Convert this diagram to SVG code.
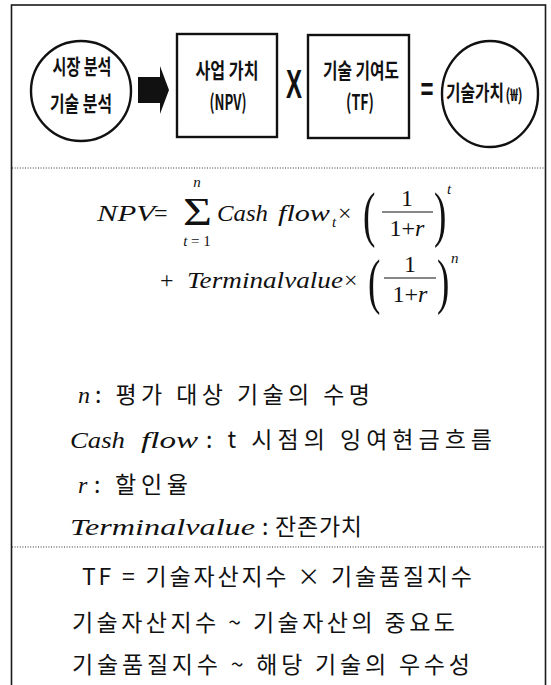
<svg xmlns="http://www.w3.org/2000/svg" width="551" height="685" viewBox="0 0 551 685">
<style>
.frame{fill:none;stroke:#1a1a1a;stroke-width:1.6}
.dot{stroke:#333;stroke-width:1;stroke-dasharray:1 1.6}
.shape{fill:#fff;stroke:#111;stroke-width:2.4}
.hd{font-family:"Noto Sans CJK KR","Noto Sans",sans-serif;font-weight:700;font-size:21px;fill:#111;text-anchor:middle}
.op{font-family:"Liberation Sans",Arial,sans-serif;font-weight:700;fill:#111;text-anchor:middle}
.m{font-family:"Liberation Serif","Times New Roman",serif;font-style:italic;font-size:24px;fill:#111}
.mr{font-family:"Liberation Serif","Times New Roman",serif;font-size:24px;fill:#111}
.ms{font-family:"Liberation Serif","Times New Roman",serif;font-size:15px;fill:#111}
.kr{font-family:"Noto Sans CJK KR","Noto Sans",sans-serif;font-size:23px;fill:#111}
</style>
<rect x="0" y="0" width="551" height="685" fill="#fff"/>
<rect class="frame" x="11.5" y="5" width="534" height="700"/>
<line class="dot" x1="12" y1="168" x2="545" y2="168"/>
<line class="dot" x1="12" y1="547" x2="545" y2="547"/>

<g id="connectors">
  <path d="M138,77 H160 V66 L169,90 L160,114 V103 H138 Z" fill="#111"/>
</g>

<g id="analysis">
  <ellipse class="shape" cx="81" cy="91" rx="50" ry="50"/>
  <text class="hd" x="82" y="74" textLength="59" lengthAdjust="spacingAndGlyphs">시장 분석</text>
  <text class="hd" x="81" y="111" textLength="62" lengthAdjust="spacingAndGlyphs">기술 분석</text>
</g>

<g id="npv-box">
  <rect class="shape" x="177" y="34" width="100" height="103"/>
  <text class="hd" x="227" y="78" textLength="63" lengthAdjust="spacingAndGlyphs">사업 가치</text>
  <text class="hd" x="228" y="110" textLength="37" lengthAdjust="spacingAndGlyphs">(NPV)</text>
</g>

<g id="times-op">
  <text class="op" x="294" y="98" style="font-size:40px" textLength="16" lengthAdjust="spacingAndGlyphs">X</text>
</g>

<g id="tf-box">
  <rect class="shape" x="308" y="35" width="101" height="103"/>
  <text class="hd" x="361" y="78" textLength="76" lengthAdjust="spacingAndGlyphs">기술 기여도</text>
  <text class="hd" x="360" y="110" textLength="28" lengthAdjust="spacingAndGlyphs">(TF)</text>
</g>

<g id="equals-op">
  <text class="op" x="427" y="100" style="font-size:32px" textLength="13" lengthAdjust="spacingAndGlyphs">=</text>
</g>

<g id="tech-value">
  <ellipse class="shape" cx="490" cy="94" rx="48" ry="53"/>
  <text class="hd" style="text-anchor:start" transform="translate(446 100) scale(0.75 1)" x="0" y="0">기술가치<tspan style="font-size:17px" dx="2" dy="1">(₩)</tspan></text>
</g>

<g id="formula">
  <text class="m" x="97" y="221" textLength="58" lengthAdjust="spacingAndGlyphs">NPV</text>
  <text class="mr" x="154" y="221">=</text>
  <text class="mr" x="183" y="225" style="font-size:40px" textLength="29" lengthAdjust="spacingAndGlyphs">Σ</text>
  <text class="ms" x="197" y="187" font-style="italic" text-anchor="middle">n</text>
  <text class="ms" x="197" y="246" text-anchor="middle"><tspan font-style="italic">t</tspan> = 1</text>
  <text class="m" x="217" y="221" textLength="51" lengthAdjust="spacingAndGlyphs">Cash</text>
  <text class="m" x="278" y="221" textLength="52" lengthAdjust="spacingAndGlyphs">flow</text>
  <text class="ms" x="332" y="227" font-style="italic">t</text>
  <text class="mr" x="338" y="221">×</text>
  <text class="mr" x="363" y="235" style="font-size:62px" transform="translate(363 235) scale(0.6 1) translate(-363 -235)">(</text>
  <text class="mr" x="407" y="206" text-anchor="middle">1</text>
  <line x1="382" y1="212" x2="433" y2="212" stroke="#111" stroke-width="1.2"/>
  <text class="mr" x="407" y="236" text-anchor="middle">1+<tspan font-style="italic">r</tspan></text>
  <text class="mr" x="434" y="235" style="font-size:62px" transform="translate(434 235) scale(0.6 1) translate(-434 -235)">)</text>
  <text class="ms" x="447" y="194" font-style="italic">t</text>

  <text class="mr" x="160" y="288">+</text>
  <text class="m" x="187" y="288" textLength="156" lengthAdjust="spacingAndGlyphs">Terminalvalue</text>
  <text class="mr" x="344" y="288">×</text>
  <text class="mr" x="368" y="302" style="font-size:62px" transform="translate(368 302) scale(0.6 1) translate(-368 -302)">(</text>
  <text class="mr" x="410" y="272" text-anchor="middle">1</text>
  <line x1="384" y1="278" x2="436" y2="278" stroke="#111" stroke-width="1.2"/>
  <text class="mr" x="410" y="302" text-anchor="middle">1+<tspan font-style="italic">r</tspan></text>
  <text class="mr" x="437" y="302" style="font-size:62px" transform="translate(437 302) scale(0.6 1) translate(-437 -302)">)</text>
  <text class="ms" x="451" y="263" font-style="italic">n</text>
</g>

<g id="definitions">
  <text class="m" x="78" y="403">n</text>
  <text class="kr" x="95" y="403" textLength="275" lengthAdjust="spacing">: 평가 대상 기술의 수명</text>
  <text class="m" x="70" y="448" textLength="55" lengthAdjust="spacingAndGlyphs">Cash</text>
  <text class="m" x="141" y="448" textLength="57" lengthAdjust="spacingAndGlyphs">flow</text>
  <text class="kr" x="206" y="448" textLength="286" lengthAdjust="spacing">: t 시점의 잉여현금흐름</text>
  <text class="m" x="78" y="493">r</text>
  <text class="kr" x="94" y="493" textLength="94" lengthAdjust="spacing">: 할인율</text>
  <text class="m" x="70" y="535" textLength="185" lengthAdjust="spacingAndGlyphs">Terminalvalue</text>
  <text class="kr" x="262" y="535" textLength="100" lengthAdjust="spacing">: 잔존가치</text>
</g>

<g id="tf-notes">
  <text class="kr" x="82" y="585" textLength="390" lengthAdjust="spacing">TF = 기술자산지수 × 기술품질지수</text>
  <text class="kr" x="72" y="631" textLength="383" lengthAdjust="spacing">기술자산지수 ~ 기술자산의 중요도</text>
  <text class="kr" x="72" y="673" textLength="398" lengthAdjust="spacing">기술품질지수 ~ 해당 기술의 우수성</text>
</g>
</svg>
